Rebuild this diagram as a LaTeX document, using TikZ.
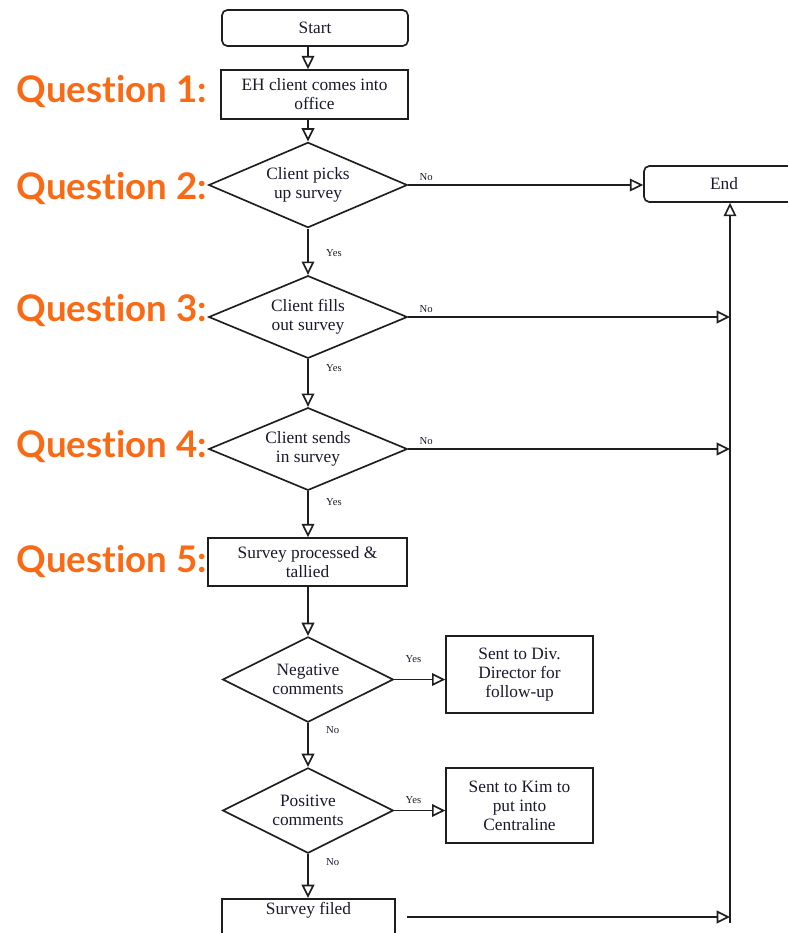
\documentclass[tikz,border=0pt]{standalone}
\usepackage{fontspec}
\setmainfont{Liberation Serif}
\newfontfamily\qfont{Lato}[Ligatures=NoCommon]
\usetikzlibrary{arrows.meta,positioning,shapes.geometric}
\definecolor{qorange}{RGB}{250,105,20}
\definecolor{flowink}{RGB}{30,30,30}
\definecolor{txtink}{RGB}{25,25,45}

\begin{document}
\begin{tikzpicture}[x=0.75pt, y=-0.75pt,
  every node/.style={font=\fontsize{13}{14.25}\selectfont, text=txtink},
  procbox/.style={draw=flowink, line width=1.25pt, rectangle, inner sep=0pt, align=center},
  termbox/.style={procbox, rounded corners=4pt},
  decision/.style={draw=flowink, line width=1.25pt, diamond, inner sep=0pt, align=center, minimum height=64pt},
  flow/.style={draw=flowink, line width=1.25pt, -{Triangle[open, length=10pt, width=9.5pt]}},
  lbl/.style={font=\fontsize{8}{9}\selectfont, inner sep=0pt},
  qlabel/.style={font=\qfont\bfseries\fontsize{27.5}{30}\selectfont, text=qorange, anchor=east, inner sep=0pt}]
  \useasboundingbox (0,0) rectangle (788,933);
  \clip (0,0) rectangle (788,933);

  % main column
  \node[termbox, minimum width=139.5pt, minimum height=27pt] (start) at (315,28) {Start};
  \node[procbox, minimum width=140pt, minimum height=36.75pt] (arrive) at (314.5,94.5) {EH client comes into\\office};
  \node[decision, minimum width=149pt, aspect=2.33] (pickup) at (308,185) {Client picks\\up survey};
  \node[decision, minimum width=149pt, aspect=2.33, minimum height=62pt] (fillout) at (308,317) {Client fills\\out survey};
  \node[decision, minimum width=149pt, aspect=2.33, minimum height=62pt] (sendin) at (308,449) {Client sends\\in survey};
  \node[procbox, minimum width=149pt, minimum height=36pt] (tally) at (307.5,562) {Survey processed \&\\tallied};
  \node[decision, minimum width=128pt, aspect=2] (negative) at (308,679.5) {Negative\\comments};
  \node[decision, minimum width=128pt, aspect=2] (positive) at (308,810.5) {Positive\\comments};
  \node[procbox, minimum width=130pt, anchor=north, inner ysep=3pt, text height=9pt, text depth=30pt] (filed) at (308.5,898) {Survey filed};

  % side boxes
  \node[procbox, minimum width=110pt, minimum height=57.75pt] (director) at (519.5,674.5) {Sent to Div.\\Director for\\follow-up};
  \node[procbox, minimum width=110pt, minimum height=56pt] (kim) at (519.5,805.5) {Sent to Kim to\\put into\\Centraline};
  \node[termbox, minimum width=120pt, minimum height=27pt] (end) at (724,184) {End};

  % questions
  \node[qlabel] (q1) at (207,91) {Question 1:};
  \node[qlabel] (q2) at (207,188) {Question 2:};
  \node[qlabel] (q3) at (207,310) {Question 3:};
  \node[qlabel] (q4) at (207,446) {Question 4:};
  \node[qlabel] (q5) at (207,561) {Question 5:};

  % flow down
  \draw[flow] (start.south -| pickup.north) -- (arrive.north -| pickup.north);
  \draw[flow] (arrive.south -| pickup.north) -- (pickup.north);
  \draw[flow] (pickup.south) -- node[lbl, at start, anchor=north west, xshift=13pt, yshift=-15pt] {Yes} (fillout.north);
  \draw[flow] (fillout.south) -- node[lbl, at start, anchor=north west, xshift=13pt, yshift=-3.75pt] {Yes} (sendin.north);
  \draw[flow] (sendin.south) -- node[lbl, at start, anchor=north west, xshift=13pt, yshift=-5pt] {Yes} (tally.north -| sendin.south);
  \draw[flow] (tally.south -| negative.north) -- (negative.north);
  \draw[flow] (negative.south) -- node[lbl, at start, anchor=north west, xshift=13pt, yshift=-2pt] {No} (positive.north);
  \draw[flow] (positive.south) -- node[lbl, at start, anchor=north west, xshift=13pt, yshift=-3pt] {No} (filed.north -| positive.south);

  % side branches
  \draw[flow] (negative.east) -- node[lbl, at start, anchor=south west, xshift=8pt, yshift=12pt] {Yes} (negative.east -| director.west);
  \draw[flow] (positive.east) -- node[lbl, at start, anchor=south west, xshift=8pt, yshift=4.5pt] {Yes} (positive.east -| kim.west);
  \draw[flow] (pickup.east) -- node[lbl, at start, anchor=south west, xshift=8pt, yshift=2.5pt] {No} (pickup.east -| end.west);

  % return line into End
  \coordinate (ret) at (730,923);
  \coordinate (filedout) at (407,917);
  \draw[flow] (ret) -- (ret |- end.south);
  \draw[flow] (fillout.east) -- node[lbl, at start, anchor=south west, xshift=8pt, yshift=2.5pt] {No} (fillout.east -| ret);
  \draw[flow] (sendin.east) -- node[lbl, at start, anchor=south west, xshift=8pt, yshift=2.5pt] {No} (sendin.east -| ret);
  \draw[flow] (filedout) -- (filedout -| ret);
\end{tikzpicture}
\end{document}
